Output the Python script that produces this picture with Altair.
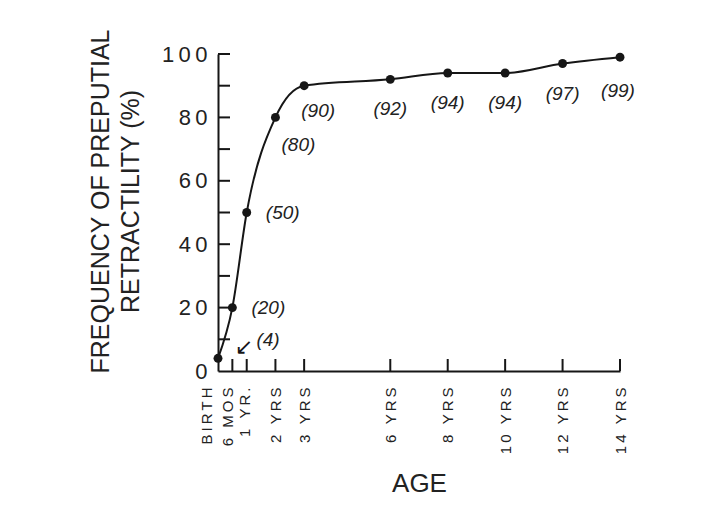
import altair as alt
import pandas as pd

# ---- data ----
ages = [0, 0.5, 1, 2, 3, 6, 8, 10, 12, 14]
age_labels = ["BIRTH", "6 MOS", "1 YR.", "2 YRS", "3 YRS", "6 YRS", "8 YRS", "10 YRS", "12 YRS", "14 YRS"]
retractility = [4, 20, 50, 80, 90, 92, 94, 94, 97, 99]
y_label_values = [0, 20, 40, 60, 80, 100]
y_minor_ticks = [10, 20, 30, 40, 50, 60, 70, 80, 90, 100]
y_title = ["FREQUENCY OF PREPUTIAL", "RETRACTILITY (%)"]
x_title = "AGE"

THIN = "\u2009"
INK = "#161616"
FONT = "Liberation Sans"

W, H = 402, 317


def spaced(s):
    return THIN.join(list(s))


df = pd.DataFrame({
    "age": ages,
    "pct": retractility,
    "label": ["(" + str(v) + ")" for v in retractility],
})
ticks_y = pd.DataFrame({"v": y_minor_ticks})
ticks_x = pd.DataFrame({"age": ages[1:]})

x_expr = " : ".join(
    f"datum.value == {a} ? '{spaced(l)}'" for a, l in zip(ages, age_labels)
) + " : ''"
y_expr = " : ".join(
    f"datum.value == {v} ? '{spaced(str(v))}'" for v in y_label_values
) + " : ''"

x_scale = alt.Scale(domain=[0, 14], nice=False, zero=False)
y_scale = alt.Scale(domain=[0, 100], nice=False)

x_axis = alt.Axis(
    values=ages, labelExpr=x_expr, labelAngle=270, labelPadding=16, tickSize=0,
    labelOverlap=False, labelFont=FONT, labelFontSize=15, labelColor="#222",
    labelOffset={"condition": [{"test": "datum.value == 0", "value": -12},
                               {"test": "datum.value == 0.5", "value": -5},
                               {"test": "datum.value == 1", "value": -2}],
                 "value": 0},
    domainColor=INK, domainWidth=2, grid=False,
    title=x_title, titleFont=FONT, titleFontSize=26, titleFontWeight="normal",
    titleColor="#222", titleX=W / 2, titleY=112, titleAlign="center",
    titleBaseline="middle", titleAngle=0,
)
y_axis = alt.Axis(
    values=y_label_values, labelExpr=y_expr, tickSize=0, labelPadding=11,
    labelFont=FONT, labelFontSize=22, labelColor="#222",
    domainColor=INK, domainWidth=2, grid=False,
    title=y_title, titleFont=FONT, titleFontSize=25, titleFontWeight="normal",
    titleColor="#222", titleAngle=270, titleX=-118, titleY=147,
    titleAlign="center", titleBaseline="middle", titleLineHeight=30,
)

base = alt.Chart(df)

line = base.mark_line(interpolate="monotone", color=INK, strokeWidth=2).encode(
    x=alt.X("age:Q", scale=x_scale, axis=x_axis),
    y=alt.Y("pct:Q", scale=y_scale, axis=y_axis),
)
points = base.mark_circle(size=80, color=INK, opacity=1).encode(
    x=alt.X("age:Q", scale=x_scale),
    y=alt.Y("pct:Q", scale=y_scale),
)

ytick = alt.Chart(ticks_y).mark_rule(color=INK, strokeWidth=2).encode(
    y=alt.Y("v:Q", scale=y_scale), x=alt.value(0), x2=alt.value(12)
)
xtick = alt.Chart(ticks_x).mark_rule(color=INK, strokeWidth=2).encode(
    x=alt.X("age:Q", scale=x_scale), y=alt.value(H - 12), y2=alt.value(H)
)


def label_layer(keep, dx, dy):
    return base.transform_filter(
        alt.FieldOneOfPredicate(field="age", oneOf=keep)
    ).mark_text(
        font=FONT, fontSize=19, fontStyle="italic", color="#222",
        align="center", baseline="middle", dx=dx, dy=dy,
    ).encode(
        x=alt.X("age:Q", scale=x_scale),
        y=alt.Y("pct:Q", scale=y_scale),
        text="label:N",
    )


lab_birth = label_layer([0], 50, -18)
lab_right = label_layer([0.5, 1], 36, 0)
lab_2 = label_layer([2], 23, 28)
lab_3 = label_layer([3], 14, 25)
lab_below = label_layer([6, 8, 10, 12], 0, 30)
lab_last = label_layer([14], -2, 34)

arrow = base.transform_filter(alt.FieldEqualPredicate(field="age", equal=0)).mark_text(
    text="\u2199", font="DejaVu Sans", fontSize=22, color=INK, dx=26, dy=-11,
    align="center", baseline="middle",
).encode(x=alt.X("age:Q", scale=x_scale), y=alt.Y("pct:Q", scale=y_scale))

chart = alt.layer(
    line, ytick, xtick, points, lab_birth, lab_right, lab_2, lab_3, lab_below,
    lab_last, arrow
).properties(
    width=W, height=H,
    autosize=alt.AutoSizeParams(type="none"),
    padding={"left": 210, "top": 46, "right": 70, "bottom": 146},
    background="white",
).configure_view(stroke=None)

chart.save("out.html", embed_options={"renderer": "svg", "actions": False})
